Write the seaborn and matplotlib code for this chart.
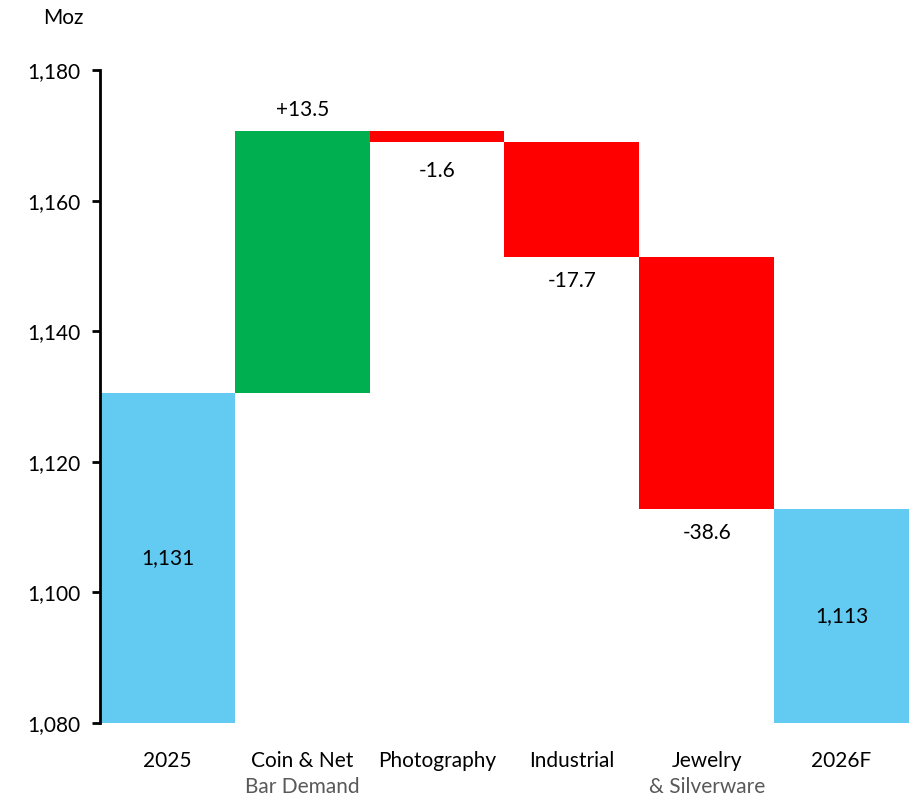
import matplotlib
matplotlib.use("Agg")
import matplotlib.pyplot as plt
import matplotlib.transforms as mtransforms
import seaborn as sns
import pandas as pd

# ---- data ----
categories = ["2025", "Coin & Net", "Photography", "Industrial", "Jewelry", "2026F"]
sublabels = ["", "Bar Demand", "", "", "& Silverware", ""]
start_total = 1130.6
drawn_changes = [40.0, -1.6, -17.7, -38.6]   # bar heights as drawn in the picture
end_total = 1112.7
value_labels = ["1,131", "+13.5", "-1.6", "-17.7", "-38.6", "1,113"]
y_ticks = [1080, 1100, 1120, 1140, 1160, 1180]
y_tick_labels = ["1,080", "1,100", "1,120", "1,140", "1,160", "1,180"]
unit = "Moz"

BLUE = "#63CBF2"
GREEN = "#00B050"
RED = "#FF0000"
Y_MIN = 1080

# ---- build waterfall table ----
bottoms, heights, colors = [], [], []
bottoms.append(Y_MIN); heights.append(start_total - Y_MIN); colors.append(BLUE)
level = start_total
for d in drawn_changes:
    if d >= 0:
        bottoms.append(level); heights.append(d); colors.append(GREEN)
    else:
        bottoms.append(level + d); heights.append(-d); colors.append(RED)
    level += d
bottoms.append(Y_MIN); heights.append(end_total - Y_MIN); colors.append(BLUE)

df = pd.DataFrame({"cat": categories, "bottom": bottoms, "height": heights})

sns.set_theme(style="white")
plt.rcParams["font.family"] = ["Lato", "DejaVu Sans"]

fig = plt.figure(figsize=(9.15, 8.01), dpi=100)
ax = fig.add_axes([100 / 915, 1 - 723 / 801, 809 / 915, (723 - 70) / 801])

sns.barplot(data=df, x="cat", y="height", color=BLUE,
            bottom=list(df["bottom"]), width=1.0, linewidth=0, ax=ax,
            saturation=1.0, errorbar=None)
for patch, c in zip(ax.patches, colors):
    patch.set_facecolor(c)
    patch.set_edgecolor(c)

ax.set_xlim(-0.5, 5.5)
ax.set_ylim(1080, 1180)
ax.set_yticks(y_ticks)
ax.set_yticklabels(y_tick_labels, fontsize=15, color="black")
ax.set_xticks(range(len(categories)))
ax.set_xticklabels(categories, fontsize=15, color="black")
ax.set_xlabel("")
ax.set_ylabel("")

for s in ["top", "right", "bottom"]:
    ax.spines[s].set_visible(False)
ax.spines["left"].set_color("black")
ax.spines["left"].set_linewidth(2)
ax.spines["left"].set_zorder(5)
ax.tick_params(axis="y", left=True, length=6, width=2, color="black", pad=8)
ax.tick_params(axis="x", bottom=False, pad=14)

# second line of category labels (grey)
trans = mtransforms.blended_transform_factory(ax.transData, fig.transFigure)
for i, sl in enumerate(sublabels):
    if sl:
        ax.text(i, 1 - 787 / 801, sl, transform=trans, ha="center", va="center",
                fontsize=15, color="#595959")

# value labels
pt = 1 / 6.53  # data units per pixel
for i, lab in enumerate(value_labels):
    b, h = bottoms[i], heights[i]
    if i == 0 or i == len(value_labels) - 1:
        y = b + h / 2
    elif colors[i] == GREEN:
        y = b + h + 21 * pt
    else:
        y = b - (29 if i == 2 else 24) * pt
    ax.text(i, y, lab, ha="center", va="center", fontsize=15, color="black",
            clip_on=False)

fig.text(63 / 915, 1 - 18 / 801, unit, ha="center", va="center", fontsize=15, color="black")

fig.savefig("out.png", dpi=100, facecolor="white")
